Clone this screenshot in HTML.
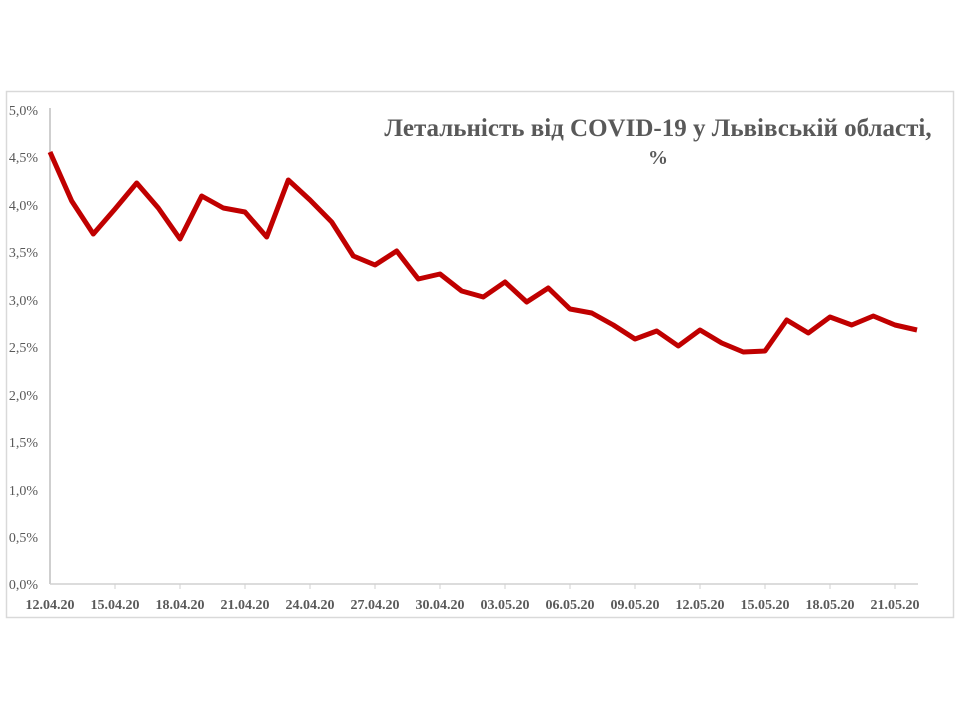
<!DOCTYPE html>
<html><head><meta charset="utf-8"><style>
body{margin:0;background:#fff;}
svg{display:block;}
</style></head><body>
<svg width="960" height="720" xmlns="http://www.w3.org/2000/svg">
<rect x="6.5" y="91.5" width="947" height="526" fill="#fff" stroke="#d9d9d9" stroke-width="1.5"/>
<line x1="50" y1="108" x2="50" y2="584" stroke="#bfbfbf" stroke-width="1.5"/>
<line x1="50" y1="584" x2="918" y2="584" stroke="#d0d0d0" stroke-width="1.5"/>
<g stroke="#d0d0d0" stroke-width="1">
<line x1="115" y1="584" x2="115" y2="589"/><line x1="180" y1="584" x2="180" y2="589"/><line x1="245" y1="584" x2="245" y2="589"/><line x1="310" y1="584" x2="310" y2="589"/><line x1="375" y1="584" x2="375" y2="589"/><line x1="440" y1="584" x2="440" y2="589"/><line x1="505" y1="584" x2="505" y2="589"/><line x1="570" y1="584" x2="570" y2="589"/><line x1="635" y1="584" x2="635" y2="589"/><line x1="700" y1="584" x2="700" y2="589"/><line x1="765" y1="584" x2="765" y2="589"/><line x1="830" y1="584" x2="830" y2="589"/><line x1="895" y1="584" x2="895" y2="589"/>
</g>
<g font-family="Liberation Serif, serif" font-size="14" fill="#595959" text-anchor="end">
<text x="38" y="115">5,0%</text><text x="38" y="162">4,5%</text><text x="38" y="210">4,0%</text><text x="38" y="257">3,5%</text><text x="38" y="305">3,0%</text><text x="38" y="352">2,5%</text><text x="38" y="400">2,0%</text><text x="38" y="447">1,5%</text><text x="38" y="495">1,0%</text><text x="38" y="542">0,5%</text><text x="38" y="589">0,0%</text>
</g>
<g font-family="Liberation Serif, serif" font-size="14" font-weight="bold" fill="#595959" text-anchor="middle">
<text x="50" y="609">12.04.20</text><text x="115" y="609">15.04.20</text><text x="180" y="609">18.04.20</text><text x="245" y="609">21.04.20</text><text x="310" y="609">24.04.20</text><text x="375" y="609">27.04.20</text><text x="440" y="609">30.04.20</text><text x="505" y="609">03.05.20</text><text x="570" y="609">06.05.20</text><text x="635" y="609">09.05.20</text><text x="700" y="609">12.05.20</text><text x="765" y="609">15.05.20</text><text x="830" y="609">18.05.20</text><text x="895" y="609">21.05.20</text>
</g>
<g font-family="Liberation Serif, serif" font-size="25" font-weight="bold" fill="#595959" text-anchor="middle">
<text x="658" y="136">Летальність від COVID-19 у Львівській області,</text>
<text x="658" y="164" font-size="20">%</text>
</g>
<polyline fill="none" stroke="#c00000" stroke-width="5" stroke-linejoin="round" points="50,152 71.7,201 93.3,234 115,209 136.7,183 158.3,208 180,239 201.7,196 223.3,208 245,212 266.7,237 288.3,180 310,200 331.7,222 353.3,256 375,265 396.7,251 418.3,279 440,274 461.7,291 483.3,297 505,282 526.7,302 548.3,288 570,309 591.7,313 613.3,325 635,339 656.7,331 678.3,346 700,330 721.7,343 743.3,352 765,351 786.7,320 808.3,333 830,317 851.7,325 873.3,316 895,325 917,330"/>
</svg>
</body></html>
